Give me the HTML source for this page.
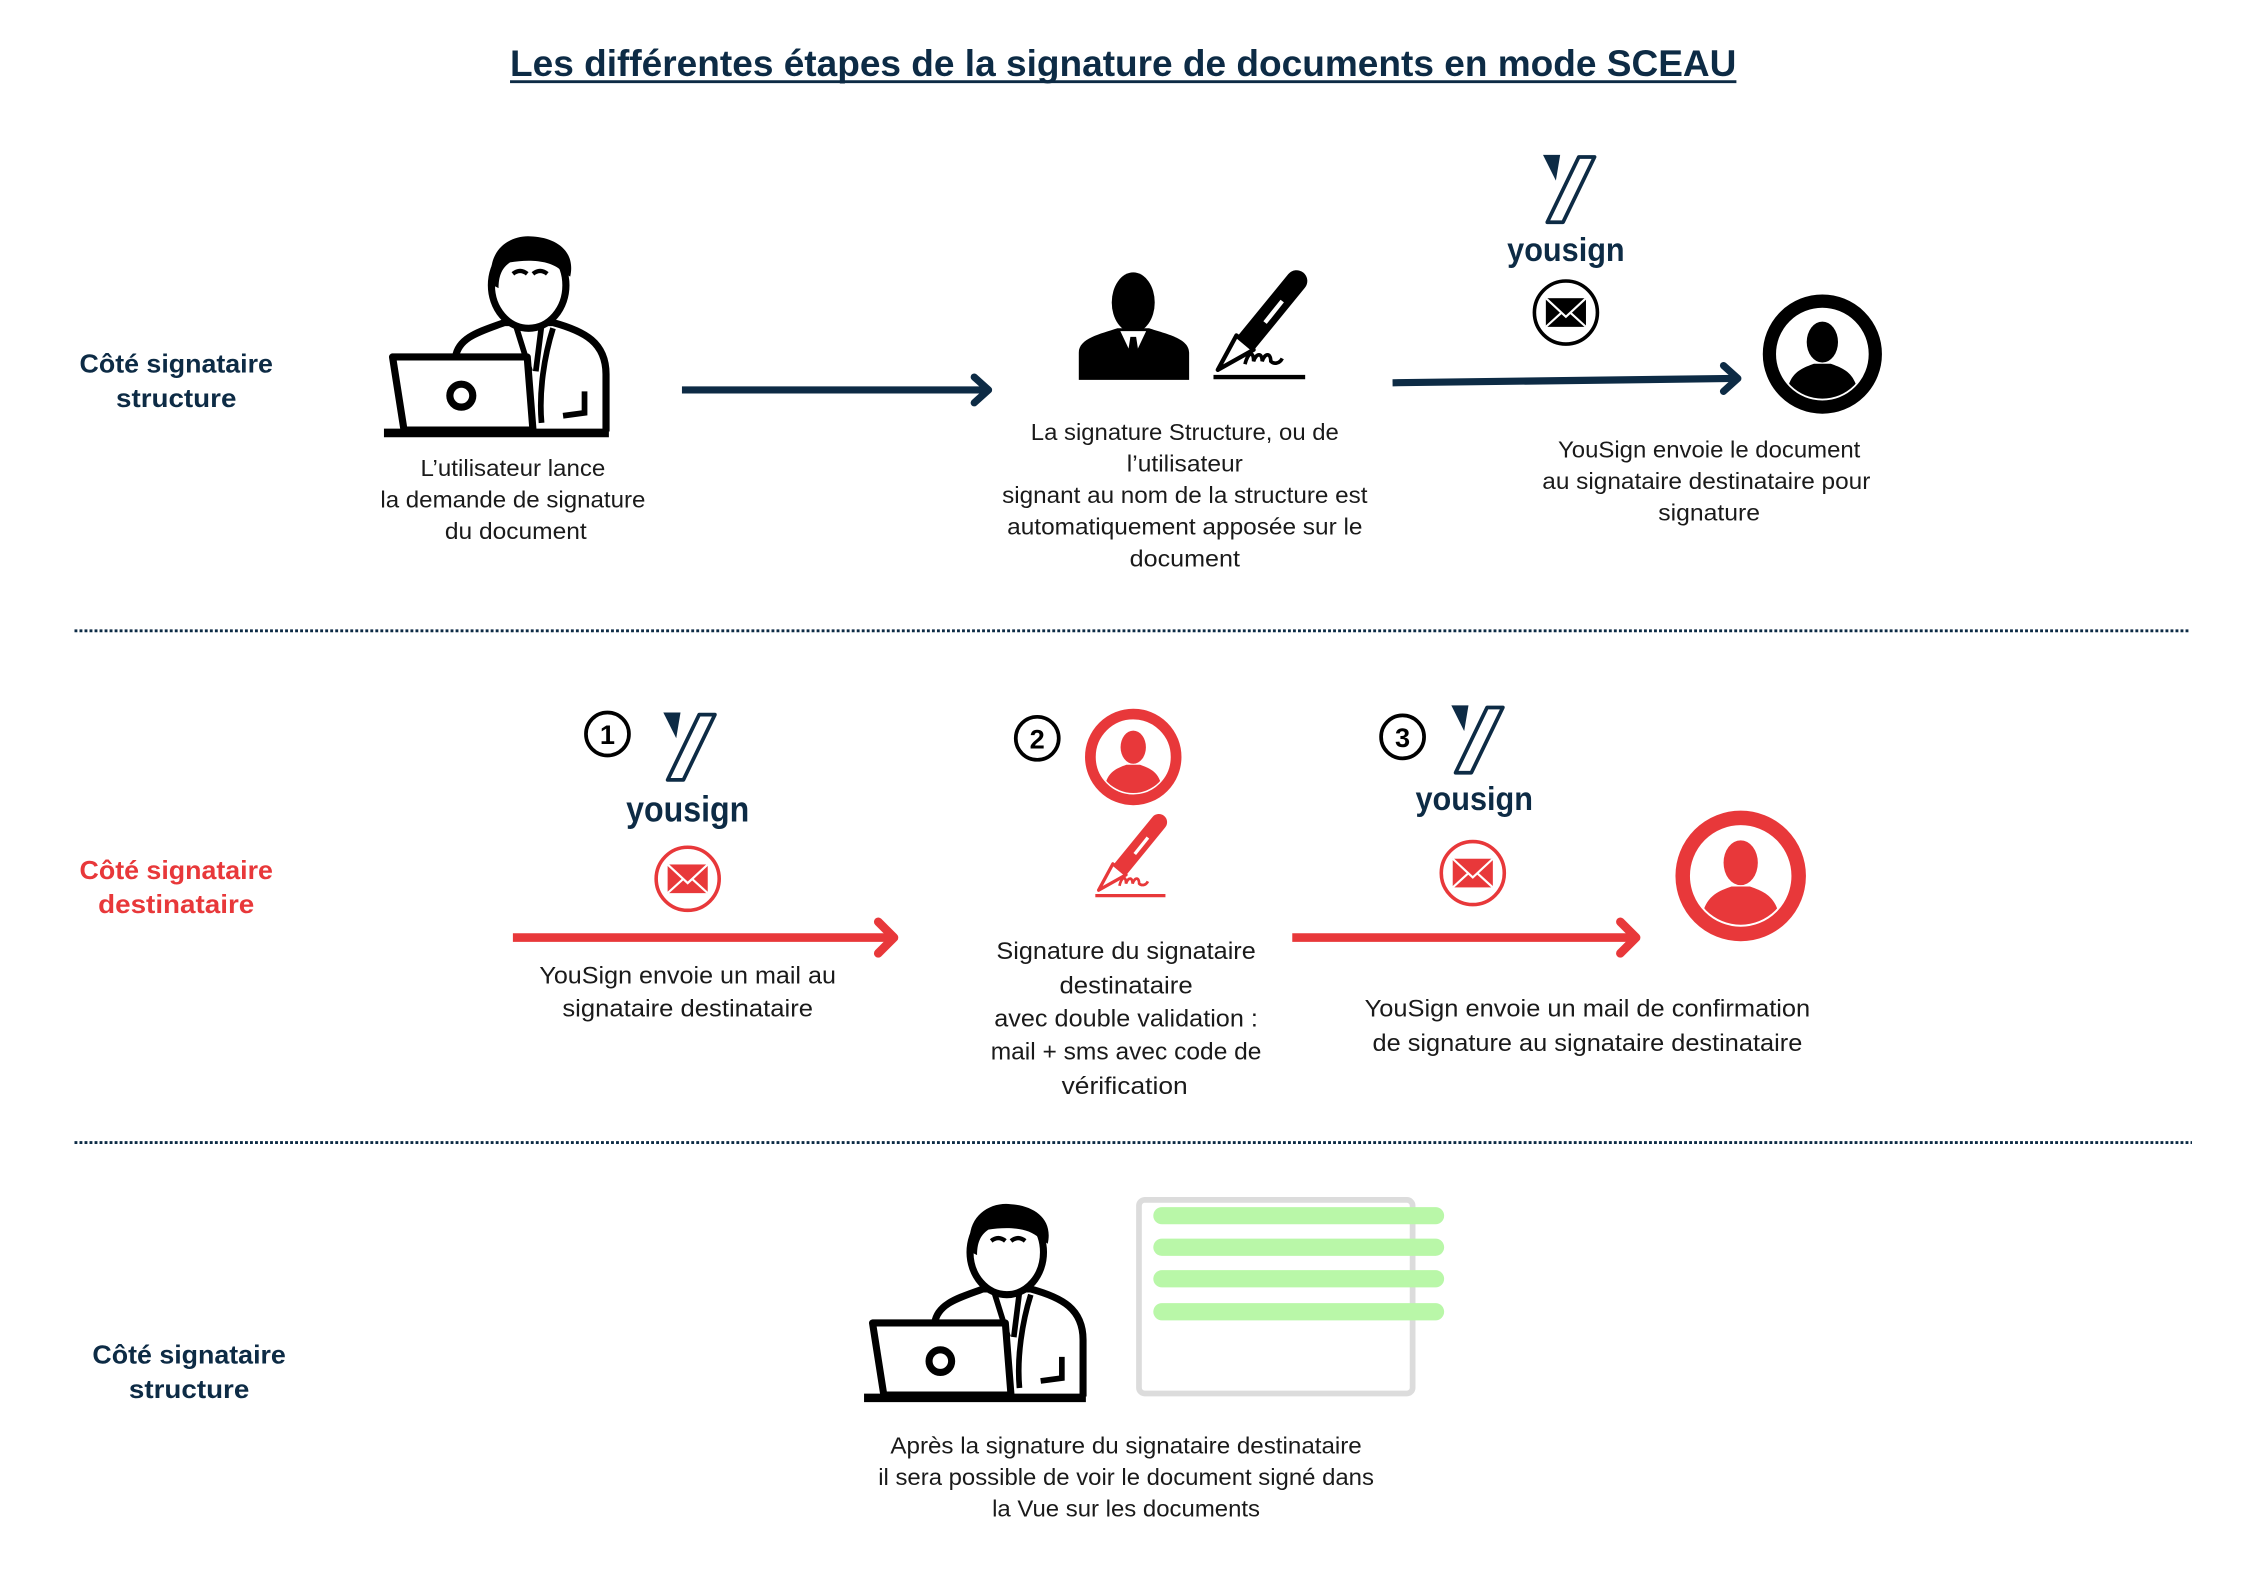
<!DOCTYPE html>
<html><head><meta charset="utf-8"><style>
html,body{margin:0;padding:0;background:#fff;}
svg{display:block;}
text{font-family:"Liberation Sans",sans-serif;}
.b{font-size:16px;fill:#1a1a1a;text-anchor:middle;}
.c{font-size:17px;fill:#1a1a1a;text-anchor:middle;}
.l{font-size:18px;font-weight:bold;fill:#0d2b45;text-anchor:middle;}
.r{fill:#e8383a;}
.y{font-weight:bold;fill:#0d2b45;text-anchor:middle;}
</style></head><body>
<svg width="2245" height="1587" viewBox="0 0 1567 1107" preserveAspectRatio="none" xmlns="http://www.w3.org/2000/svg">
<defs>
<clipPath id="uc"><circle cx="0" cy="0" r="37"/></clipPath>
<symbol id="user" viewBox="-50 -50 100 100" overflow="visible">
 <circle cx="0" cy="0" r="44" fill="#fff" stroke="currentColor" stroke-width="11"/>
 <g clip-path="url(#uc)" fill="currentColor">
  <ellipse cx="0" cy="-10" rx="13" ry="17"/>
  <path d="M-30,40 C-30,16 -18,12 -7,8 L7,8 C18,12 30,16 30,40 Z"/>
 </g>
</symbol>
<symbol id="env" viewBox="-25 -25 50 50" overflow="visible">
 <circle cx="0" cy="0" r="22" fill="#fff" stroke="currentColor" stroke-width="2.5"/>
 <rect x="-14" y="-10" width="28" height="20" fill="currentColor"/>
 <polyline points="-14,-10 0,3 14,-10" fill="none" stroke="#fff" stroke-width="1.5"/>
 <line x1="-14" y1="10" x2="-3" y2="0" stroke="#fff" stroke-width="1.5"/>
 <line x1="14" y1="10" x2="3" y2="0" stroke="#fff" stroke-width="1.5"/>
</symbol>
<symbol id="logo" viewBox="0 0 38 49" overflow="visible">
 <polygon points="0,0 12,0 9,18" fill="#0d2b45"/>
 <polygon points="25,1.5 36,1.5 14,47 3,47" fill="#fff" stroke="#0d2b45" stroke-width="2.6" stroke-linejoin="round"/>
</symbol>
<symbol id="lap" viewBox="0 0 160 145" overflow="visible">
 <path d="M50,86 C52,72 68,68 84,62 L118,62 C140,68 155,76 155,98 L155,138" fill="#fff" stroke="#000" stroke-width="5" stroke-linejoin="round"/>
 <path d="M92,64 L102,96 M110,64 L106,96 M118,66 C112,85 108,110 110,132 M140,110 L140,125 L125,127" fill="none" stroke="#000" stroke-width="4"/>
 <ellipse cx="101" cy="36" rx="26" ry="30" fill="#fff" stroke="#000" stroke-width="5"/>
 <path d="M76,36 C70,12 88,0 104,2 C120,3 134,12 130,30 L124,26 C116,18 100,18 88,20 C82,24 80,30 80,38 Z" fill="#000"/>
 <path d="M90,28 Q95,24 100,28 M104,28 Q109,24 114,28" fill="none" stroke="#000" stroke-width="3"/>
 <polygon points="6,86 100,86 104,137 14,137" fill="#fff" stroke="#000" stroke-width="5" stroke-linejoin="round"/>
 <circle cx="54" cy="113" r="8" fill="none" stroke="#000" stroke-width="5"/>
 <line x1="0" y1="139" x2="157" y2="139" stroke="#000" stroke-width="6"/>
</symbol>
<symbol id="pen" viewBox="0 0 68 76" overflow="visible">
 <line x1="60" y1="6" x2="24" y2="50" stroke="currentColor" stroke-width="15" stroke-linecap="round"/>
 <line x1="50" y1="20" x2="38" y2="35" stroke="#fff" stroke-width="3"/>
 <polygon points="18,44 30,54 5,68" fill="#fff" stroke="currentColor" stroke-width="3" stroke-linejoin="round"/>
 <path d="M24,64 C26,56 30,54 30,62 C32,56 36,56 36,62 C38,56 42,56 42,62 C44,64 48,64 50,60" fill="none" stroke="currentColor" stroke-width="2.5"/>
 <line x1="2" y1="73" x2="66" y2="73" stroke="currentColor" stroke-width="3"/>
</symbol>
</defs>

<text x="784" y="53" font-size="26" font-weight="bold" fill="#0d2b45" text-anchor="middle" textLength="856" lengthAdjust="spacingAndGlyphs">Les différentes étapes de la signature de documents en mode SCEAU</text>
<line x1="356" y1="57" x2="1212" y2="57" stroke="#0d2b45" stroke-width="2"/>

<text class="l" x="123" y="260" textLength="135" lengthAdjust="spacingAndGlyphs">Côté signataire</text>
<text class="l" x="123" y="284" textLength="84" lengthAdjust="spacingAndGlyphs">structure</text>

<use href="#lap" x="268" y="163" width="160" height="145"/>
<line x1="476" y1="272" x2="688" y2="272" stroke="#0d2b45" stroke-width="5"/>
<polyline points="680,263 690,272 680,281" fill="none" stroke="#0d2b45" stroke-width="5" stroke-linecap="round" stroke-linejoin="round"/>

<text class="b" x="358" y="332" textLength="129" lengthAdjust="spacingAndGlyphs">L’utilisateur lance</text>
<text class="b" x="358" y="354" textLength="185" lengthAdjust="spacingAndGlyphs">la demande de signature</text>
<text class="b" x="360" y="376" textLength="99" lengthAdjust="spacingAndGlyphs">du document</text>

<g fill="#000">
 <ellipse cx="791" cy="211" rx="15" ry="21"/>
 <path d="M753,265 L753,246 C753,236 768,233 780,229 L802,229 C814,233 830,236 830,246 L830,265 Z"/>
 <path d="M782,231 L791,250 L800,231 Z" fill="#fff"/>
 <path d="M789,235 L793,235 L795,248 L791,253 L787,248 Z"/>
</g>
<use href="#pen" x="845" y="190" width="68" height="76" style="color:#000"/>

<text class="b" x="827" y="307" textLength="215" lengthAdjust="spacingAndGlyphs">La signature Structure, ou de</text>
<text class="b" x="827" y="329" textLength="81" lengthAdjust="spacingAndGlyphs">l’utilisateur</text>
<text class="b" x="827" y="351" textLength="255" lengthAdjust="spacingAndGlyphs">signant au nom de la structure est</text>
<text class="b" x="827" y="373" textLength="248" lengthAdjust="spacingAndGlyphs">automatiquement apposée sur le</text>
<text class="b" x="827" y="395" textLength="77" lengthAdjust="spacingAndGlyphs">document</text>

<use href="#logo" x="1077" y="108" width="38" height="49"/>
<text class="y" x="1093" y="182" font-size="23" textLength="82" lengthAdjust="spacingAndGlyphs">yousign</text>
<use href="#env" x="1068" y="193" width="50" height="50" style="color:#000"/>

<line x1="972" y1="267" x2="1210" y2="264" stroke="#0d2b45" stroke-width="5"/>
<polyline points="1203,255 1213,264 1203,273" fill="none" stroke="#0d2b45" stroke-width="5" stroke-linecap="round" stroke-linejoin="round"/>
<use href="#user" x="1230" y="205" width="84" height="84" style="color:#000"/>

<text class="b" x="1193" y="319" textLength="211" lengthAdjust="spacingAndGlyphs">YouSign envoie le document</text>
<text class="b" x="1191" y="341" textLength="229" lengthAdjust="spacingAndGlyphs">au signataire destinataire pour</text>
<text class="b" x="1193" y="363" textLength="71" lengthAdjust="spacingAndGlyphs">signature</text>

<line x1="52" y1="440" x2="1528" y2="440" stroke="#0d2b45" stroke-width="2" stroke-dasharray="2 1.5"/>

<text class="l r" x="123" y="613" textLength="135" lengthAdjust="spacingAndGlyphs">Côté signataire</text>
<text class="l r" x="123" y="637" textLength="109" lengthAdjust="spacingAndGlyphs">destinataire</text>

<circle cx="424" cy="512" r="15" fill="#fff" stroke="#000" stroke-width="2.6"/>
<text x="424" y="519" font-size="19" font-weight="bold" text-anchor="middle" fill="#000">1</text>
<use href="#logo" x="463" y="497" width="38" height="49"/>
<text class="y" x="480" y="573" font-size="25" textLength="86" lengthAdjust="spacingAndGlyphs">yousign</text>
<use href="#env" x="455" y="588" width="50" height="50" style="color:#e8383a"/>
<line x1="358" y1="654" x2="622" y2="654" stroke="#e8383a" stroke-width="6"/>
<polyline points="613,643 624,654 613,665" fill="none" stroke="#e8383a" stroke-width="6" stroke-linecap="round" stroke-linejoin="round"/>
<text class="c" x="480" y="686" textLength="207" lengthAdjust="spacingAndGlyphs">YouSign envoie un mail au</text>
<text class="c" x="480" y="709" textLength="175" lengthAdjust="spacingAndGlyphs">signataire destinataire</text>

<circle cx="724" cy="515" r="15" fill="#fff" stroke="#000" stroke-width="2.6"/>
<text x="724" y="522" font-size="19" font-weight="bold" text-anchor="middle" fill="#000">2</text>
<use href="#user" x="757" y="494" width="68" height="68" style="color:#e8383a"/>
<use href="#pen" x="763" y="568" width="52" height="60" style="color:#e8383a"/>
<text class="c" x="786" y="669" textLength="181" lengthAdjust="spacingAndGlyphs">Signature du signataire</text>
<text class="c" x="786" y="693" textLength="93" lengthAdjust="spacingAndGlyphs">destinataire</text>
<text class="c" x="786" y="716" textLength="184" lengthAdjust="spacingAndGlyphs">avec double validation :</text>
<text class="c" x="786" y="739" textLength="189" lengthAdjust="spacingAndGlyphs">mail + sms avec code de</text>
<text class="c" x="785" y="763" textLength="88" lengthAdjust="spacingAndGlyphs">vérification</text>

<circle cx="979" cy="514" r="15" fill="#fff" stroke="#000" stroke-width="2.6"/>
<text x="979" y="521" font-size="19" font-weight="bold" text-anchor="middle" fill="#000">3</text>
<use href="#logo" x="1013" y="492" width="38" height="49"/>
<text class="y" x="1029" y="565" font-size="23" textLength="82" lengthAdjust="spacingAndGlyphs">yousign</text>
<use href="#env" x="1003" y="584" width="50" height="50" style="color:#e8383a"/>
<line x1="902" y1="654" x2="1140" y2="654" stroke="#e8383a" stroke-width="6"/>
<polyline points="1131,643 1142,654 1131,665" fill="none" stroke="#e8383a" stroke-width="6" stroke-linecap="round" stroke-linejoin="round"/>
<use href="#user" x="1169" y="565" width="92" height="92" style="color:#e8383a"/>
<text class="c" x="1108" y="709" textLength="311" lengthAdjust="spacingAndGlyphs">YouSign envoie un mail de confirmation</text>
<text class="c" x="1108" y="733" textLength="300" lengthAdjust="spacingAndGlyphs">de signature au signataire destinataire</text>

<line x1="52" y1="797" x2="1530" y2="797" stroke="#0d2b45" stroke-width="2" stroke-dasharray="2 1.5"/>

<text class="l" x="132" y="951" textLength="135" lengthAdjust="spacingAndGlyphs">Côté signataire</text>
<text class="l" x="132" y="975" textLength="84" lengthAdjust="spacingAndGlyphs">structure</text>

<use href="#lap" x="603" y="838" width="158" height="143"/>
<rect x="795" y="837" width="191" height="135" rx="4" fill="#fff" stroke="#dcdcdc" stroke-width="4"/>
<g fill="#b9f7a8">
 <rect x="805" y="842" width="203" height="12" rx="6"/>
 <rect x="805" y="864" width="203" height="12" rx="6"/>
 <rect x="805" y="886" width="203" height="12" rx="6"/>
 <rect x="805" y="909" width="203" height="12" rx="6"/>
</g>
<text class="b" x="786" y="1014" textLength="329" lengthAdjust="spacingAndGlyphs">Après la signature du signataire destinataire</text>
<text class="b" x="786" y="1036" textLength="346" lengthAdjust="spacingAndGlyphs">il sera possible de voir le document signé dans</text>
<text class="b" x="786" y="1058" textLength="187" lengthAdjust="spacingAndGlyphs">la Vue sur les documents</text>
</svg>
</body></html>
